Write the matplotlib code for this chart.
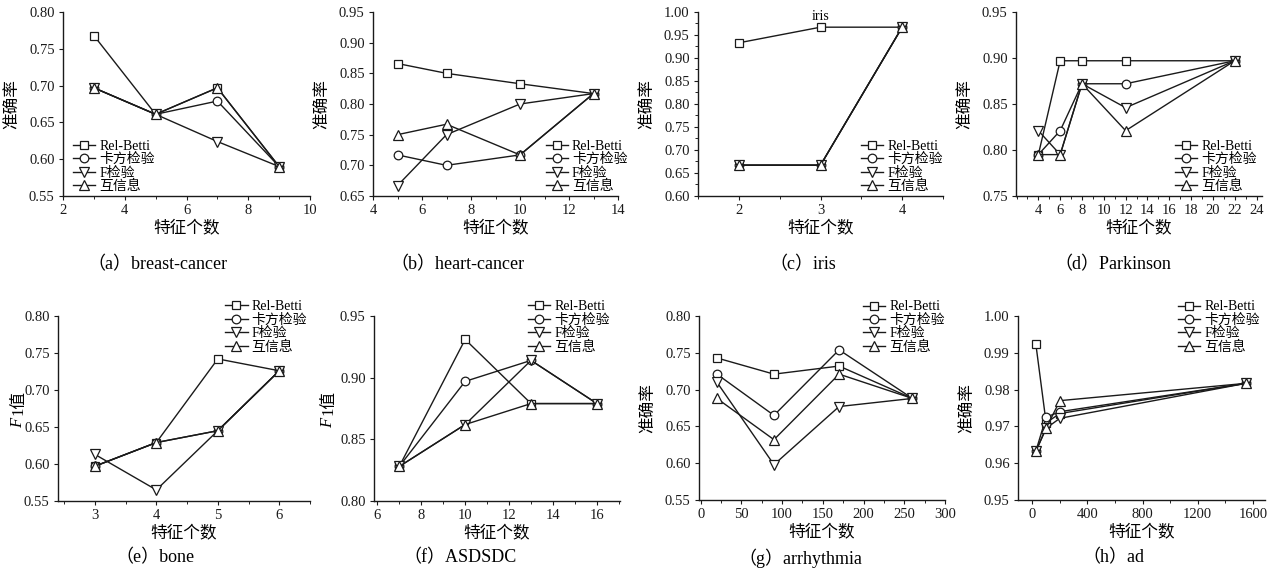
import matplotlib
matplotlib.use("Agg")
import matplotlib.pyplot as plt
from matplotlib.ticker import AutoMinorLocator, MultipleLocator

plt.rcParams['font.family'] = ['Liberation Serif', 'Noto Sans CJK SC']

series_names = ['Rel-Betti', '卡方检验', 'F检验', '互信息']
markers = ['s', 'o', 'v', '^']

# (a) breast-cancer
a_x = [3, 5, 7, 9]
a_rel = [0.768, 0.661, 0.697, 0.590]
a_chi = [0.697, 0.661, 0.679, 0.590]
a_f = [0.697, 0.661, 0.624, 0.590]
a_mi = [0.697, 0.661, 0.697, 0.590]

# (b) heart-cancer
b_x = [5, 7, 10, 13]
b_rel = [0.866, 0.850, 0.833, 0.817]
b_chi = [0.717, 0.700, 0.717, 0.817]
b_f = [0.667, 0.750, 0.800, 0.817]
b_mi = [0.750, 0.767, 0.717, 0.817]

# (c) iris
c_x = [2, 3, 4]
c_rel = [0.933, 0.967, 0.967]
c_chi = [0.667, 0.667, 0.967]
c_f = [0.667, 0.667, 0.967]
c_mi = [0.667, 0.667, 0.967]

# (d) Parkinson
d_x = [4, 6, 8, 12, 22]
d_rel = [0.795, 0.897, 0.897, 0.897, 0.897]
d_chi = [0.795, 0.821, 0.872, 0.872, 0.897]
d_f = [0.821, 0.795, 0.872, 0.846, 0.897]
d_mi = [0.795, 0.795, 0.872, 0.821, 0.897]

# (e) bone
e_x = [3, 4, 5, 6]
e_rel = [0.597, 0.629, 0.742, 0.726]
e_chi = [0.597, 0.629, 0.645, 0.726]
e_f = [0.613, 0.565, 0.645, 0.726]
e_mi = [0.597, 0.629, 0.645, 0.726]

# (f) ASDSDC
f_x = [7, 10, 13, 16]
f_rel = [0.828, 0.931, 0.879, 0.879]
f_chi = [0.828, 0.897, 0.914, 0.879]
f_f = [0.828, 0.862, 0.914, 0.879]
f_mi = [0.828, 0.862, 0.879, 0.879]

# (g) arrhythmia
g_x = [20, 90, 170, 260]
g_rel = [0.743, 0.721, 0.732, 0.688]
g_chi = [0.721, 0.665, 0.754, 0.688]
g_f = [0.710, 0.598, 0.677, 0.688]
g_mi = [0.688, 0.632, 0.721, 0.688]

# (h) ad
h_x = [25, 100, 200, 1550]
h_rel = [0.9925, 0.9710, 0.9735, 0.9817]
h_chi = [0.9632, 0.9725, 0.9740, 0.9817]
h_f = [0.9632, 0.9695, 0.9722, 0.9817]
h_mi = [0.9632, 0.9695, 0.9770, 0.9817]

captions = ['（a）breast-cancer', '（b）heart-cancer', '（c）iris', '（d）Parkinson',
            '（e）bone', '（f）ASDSDC', '（g）arrhythmia', '（h）ad']

W, H = 1282, 587
fig = plt.figure(figsize=(W / 100, H / 100), dpi=100)

def px_axes(l, r, t, b):
    return fig.add_axes([l / W, 1 - b / H, (r - l) / W, (b - t) / H])

panels = [
    dict(box=(63, 310, 12, 196), x=a_x, ys=[a_rel, a_chi, a_f, a_mi], xlim=(2, 10), xt=[2, 4, 6, 8, 10],
         ylim=(0.55, 0.80), ystep=0.05, ylabel='acc', leg=('lower left', (0.03, 0.0)), cap=(157, 265)),
    dict(box=(373, 618, 12, 196), x=b_x, ys=[b_rel, b_chi, b_f, b_mi], xlim=(4, 14), xt=[4, 6, 8, 10, 12, 14],
         ylim=(0.65, 0.95), ystep=0.05, ylabel='acc', leg=('lower right', (1.05, 0.0)), cap=(457, 265)),
    dict(box=(698, 943, 12, 196), x=c_x, ys=[c_rel, c_chi, c_f, c_mi], xlim=(1.5, 4.5), xt=[2, 3, 4],
         ylim=(0.60, 1.00), ystep=0.05, ylabel='acc', leg=('lower right', (1.01, 0.0)), cap=(803, 265),
         yminor=True),
    dict(box=(1016, 1262, 12, 196), x=d_x, ys=[d_rel, d_chi, d_f, d_mi], xlim=(1.95, 24.5),
         xt=[4, 6, 8, 10, 12, 14, 16, 18, 20, 22, 24],
         ylim=(0.75, 0.95), ystep=0.05, ylabel='acc', leg=('lower right', (0.99, 0.0)), cap=(1113, 265)),
    dict(box=(58, 310, 316, 501), x=e_x, ys=[e_rel, e_chi, e_f, e_mi], xlim=(2.4, 6.5), xt=[3, 4, 5, 6],
         ylim=(0.55, 0.80), ystep=0.05, ylabel='f1', f1x=18, leg=('upper right', (1.0, 1.10)), cap=(155, 558)),
    dict(box=(374, 620, 316, 501), x=f_x, ys=[f_rel, f_chi, f_f, f_mi], xlim=(5.85, 17.05),
         xt=[6, 8, 10, 12, 14, 16],
         ylim=(0.80, 0.95), ystep=0.05, ylabel='f1', f1x=328, leg=('upper right', (0.97, 1.10)), cap=(460, 558)),
    dict(box=(699, 945, 316, 500), x=g_x, ys=[g_rel, g_chi, g_f, g_mi], xlim=(-2, 300),
         xt=[0, 50, 100, 150, 200, 250, 300],
         ylim=(0.55, 0.80), ystep=0.05, ylabel='acc', leg=('upper right', (1.01, 1.10)), cap=(800, 558)),
    dict(box=(1018, 1265, 316, 500), x=h_x, ys=[h_rel, h_chi, h_f, h_mi], xlim=(-104, 1688),
         xt=[0, 400, 800, 1200, 1600],
         ylim=(0.95, 1.00), ystep=0.01, ylabel='acc', leg=('upper right', (0.99, 1.10)), cap=(1113, 558)),
]

ink = '#1a1a1a'
for i, p in enumerate(panels):
    ax = px_axes(*p['box'])
    for ys, m, name in zip(p['ys'], markers, series_names):
        ms = 7.0 if m in ('v', '^') else 6.2
        ax.plot(p['x'], ys, color=ink, lw=1.0, marker=m, ms=ms,
                markerfacecolor='white', markeredgecolor=ink, markeredgewidth=0.9,
                label=name)
    ax.set_xlim(*p['xlim'])
    ax.set_xticks(p['xt'])
    ax.set_ylim(*p['ylim'])
    ax.yaxis.set_major_locator(MultipleLocator(p['ystep']))
    ax.yaxis.set_major_formatter(plt.FuncFormatter(lambda v, pos: f'{v:.2f}'))
    ax.xaxis.set_minor_locator(AutoMinorLocator(2))
    if p.get('yminor'):
        ax.yaxis.set_minor_locator(AutoMinorLocator(2))
    for side in ('top', 'right'):
        ax.spines[side].set_visible(False)
    for side in ('left', 'bottom'):
        ax.spines[side].set_linewidth(1.0)
        ax.spines[side].set_color(ink)
    ax.tick_params(axis='both', which='major', direction='out', length=3, width=0.8,
                   labelsize=10.5, colors=ink, pad=3)
    ax.tick_params(axis='both', which='minor', direction='out', length=2, width=0.6)
    ax.set_xlabel('特征个数', fontsize=12, labelpad=3)
    if p['ylabel'] == 'acc':
        ax.set_ylabel('准确率', fontsize=12, labelpad=6)
    else:
        # "F1值" with italic F, stacked along a rotated baseline
        l, r, t, b = p['box']
        fx = p['f1x'] / W
        fy = 1 - ((t + b) / 2 + 8) / H
        fig.text(fx, fy - 0.002, 'F', rotation=90, ha='center', va='top',
                 fontstyle='italic', fontsize=12)
        fig.text(fx, fy + 0.002, '1值', rotation=90, ha='center', va='bottom',
                 fontsize=12)
    loc, anchor = p['leg']
    ax.legend(loc=loc, bbox_to_anchor=anchor, frameon=False, fontsize=10,
              handlelength=1.6, handletextpad=0.3, labelspacing=0.02,
              borderpad=0.2, borderaxespad=0.0)
    cx, cy = p['cap']
    fig.text(cx / W, 1 - cy / H, captions[i], ha='center', va='center', fontsize=13)
    if i == 2:
        ax.text(c_x[1], c_rel[1] + 0.008, 'iris', ha='center', va='bottom', fontsize=10)

fig.savefig('out.png', dpi=100)
